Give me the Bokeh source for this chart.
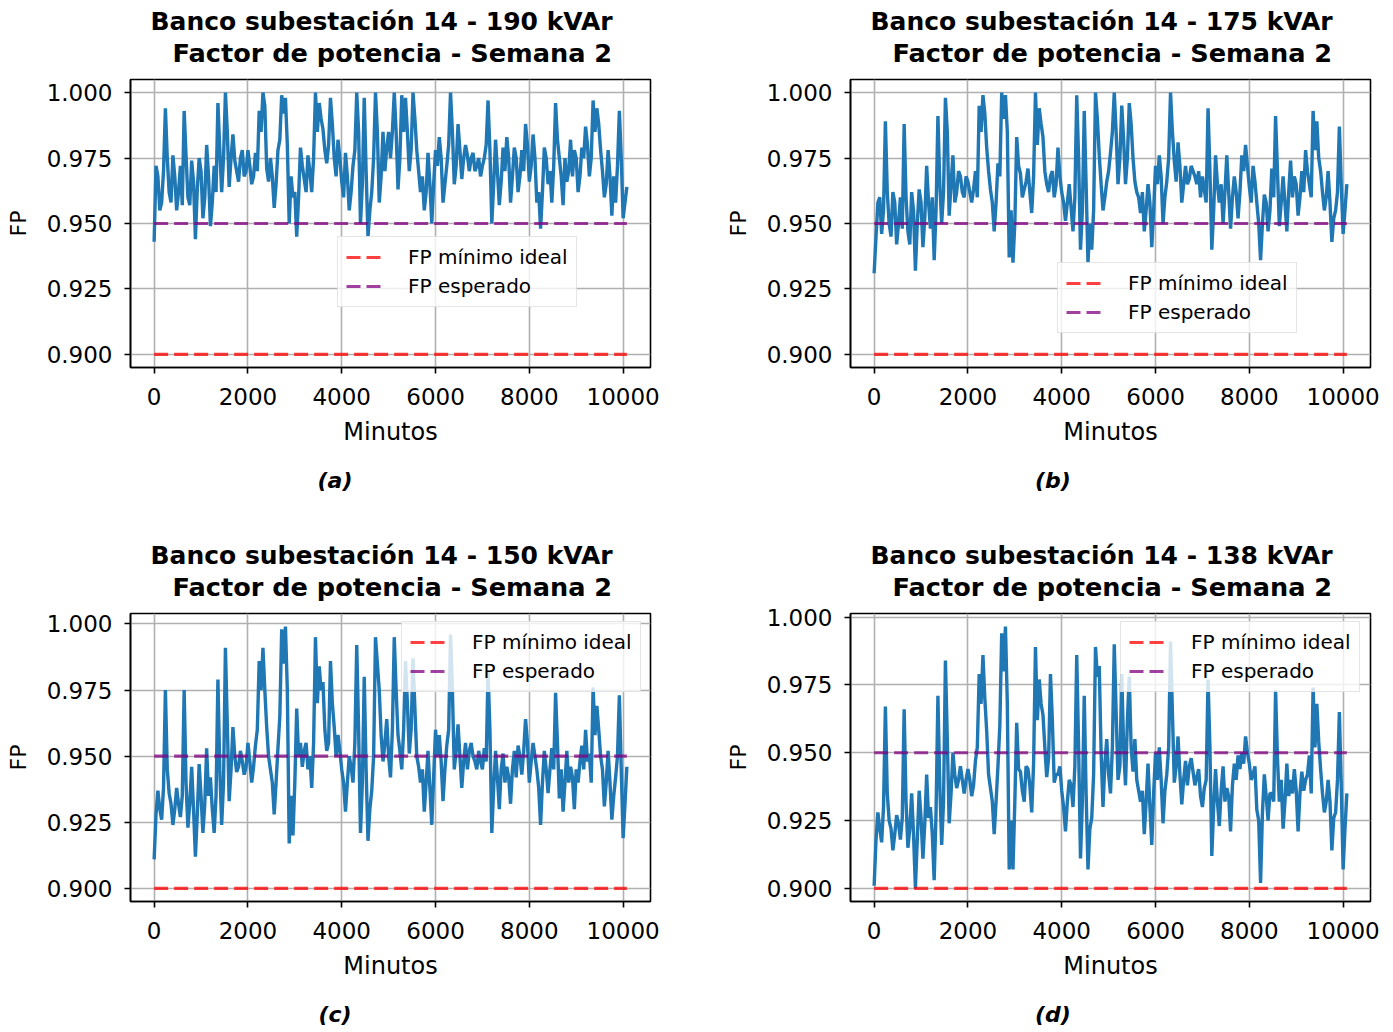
from bokeh.plotting import figure
from bokeh.models import (Range1d, FixedTicker, NumeralTickFormatter, Legend,
                          LegendItem, Title, Div, Spacer, ColumnDataSource)
from bokeh.layouts import column, row
from bokeh.embed import file_html
from bokeh.resources import INLINE

# ---------------- data ----------------
STEP_MIN = 40

# readings at 0, 80, 160, ... minutes
fp_190_lect = [0.943, 0.968, 0.958, 0.994, 0.962, 0.976, 0.955, 0.972, 0.993, 0.960,
               0.974, 0.944, 0.975, 0.952, 0.980, 0.949, 0.972, 0.996, 0.962, 1.000,
               0.964, 0.984, 0.970, 0.975, 0.968, 0.978, 0.965, 0.977, 0.993, 1.000,
               0.971, 0.975, 0.956, 0.978, 0.999, 0.998, 0.950, 0.960, 0.945, 0.979,
               0.967, 0.976, 0.962, 1.000, 0.996, 0.986, 0.973, 0.998, 0.975, 0.982,
               0.966, 0.977, 0.955, 0.972, 1.000, 0.950, 0.998, 0.945, 0.962, 1.000,
               0.958, 0.985, 0.979,
               0.975, 1.000, 0.963, 0.999, 0.998, 0.970, 1.000,
               0.978, 0.962, 0.955, 0.977, 0.950, 0.978, 0.983, 0.958, 0.972, 1.000,
               0.965, 0.988, 0.967, 0.980, 0.970, 0.977, 0.972, 0.968, 0.975, 0.997,
               0.950, 0.982, 0.957, 0.979, 0.983, 0.958, 0.979, 0.962, 0.978, 0.988,
               0.966, 0.984, 0.958, 0.948, 0.979, 0.965, 0.958, 0.996, 0.975, 0.957,
               0.966, 0.982, 0.978, 0.962, 0.979, 0.987, 0.968, 0.997, 0.994, 0.978,
               0.960, 0.978, 0.953, 0.958, 0.993, 0.952, 0.964]
# readings at 40, 120, 200, ... minutes
fp_190_int = [0.972, 0.955, 0.970, 0.975, 0.958, 0.968, 0.962, 0.957, 0.976, 0.957,
              0.966, 0.963, 0.970, 0.960, 0.968, 0.958, 0.962, 0.978, 0.975, 0.985,
              0.975, 0.974, 0.966, 0.978, 0.970, 0.972, 0.968, 0.970, 0.985, 0.995,
              0.966, 0.968, 0.965, 0.982, 0.992, 0.980, 0.968, 0.962, 0.960, 0.972,
              0.962, 0.970, 0.975, 0.985, 0.990, 0.978, 0.980, 0.988, 0.968, 0.975,
              0.960, 0.968, 0.962, 0.978, 0.985, 0.965, 0.970, 0.955, 0.975, 0.985,
              0.968, 0.970, 0.985, 0.985, 0.985, 0.975, 0.985, 0.985, 0.978, 0.990,
              0.970, 0.968, 0.962, 0.965, 0.965, 0.972, 0.975, 0.965, 0.980, 0.985,
              0.972, 0.978, 0.975, 0.976, 0.975, 0.970, 0.975, 0.972, 0.980, 0.978,
              0.965, 0.970, 0.966, 0.970, 0.975, 0.968, 0.975, 0.968, 0.970, 0.980,
              0.972, 0.975, 0.962, 0.962, 0.975, 0.970, 0.972, 0.982, 0.968, 0.975,
              0.970, 0.968, 0.975, 0.968, 0.975, 0.980, 0.975, 0.985, 0.988, 0.970,
              0.965, 0.968, 0.968, 0.972, 0.975, 0.958]

fp_175_lect = [0.931, 0.958, 0.946, 0.989, 0.950, 0.962, 0.942, 0.960, 0.988, 0.947,
               0.962, 0.932, 0.963, 0.941, 0.972, 0.948, 0.936, 0.991, 0.950, 0.998,
               0.953, 0.976, 0.962, 0.968, 0.960, 0.966, 0.958, 0.970, 0.995, 0.999,
               0.979, 0.963, 0.947, 0.973, 1.000, 0.999, 0.937, 0.935, 0.983, 0.969,
               0.963, 0.971, 0.954, 1.000, 0.994, 0.983, 0.965, 0.968, 0.960, 0.979,
               0.962, 0.951, 0.965, 0.947, 0.999, 0.940, 0.993, 0.935, 0.940, 1.000,
               0.976, 0.955, 0.966,
               0.977, 1.000, 0.965, 0.995, 0.965, 0.996, 0.975,
               0.962, 0.954, 0.947, 0.965, 0.941, 0.972, 0.976, 0.950, 0.966, 1.000,
               0.974, 0.981, 0.958, 0.972, 0.967, 0.970, 0.965, 0.960, 0.963, 0.994,
               0.940, 0.976, 0.958, 0.950, 0.976, 0.948, 0.968, 0.952, 0.976, 0.980,
               0.964, 0.972, 0.958, 0.936, 0.961, 0.947, 0.971, 0.991, 0.949, 0.968,
               0.947, 0.974, 0.968, 0.953, 0.970, 0.978, 0.965, 0.993, 0.989, 0.970,
               0.955, 0.970, 0.943, 0.955, 0.987, 0.946, 0.965]
fp_175_int = [0.945, 0.960, 0.955, 0.962, 0.945, 0.958, 0.950, 0.948, 0.960, 0.942,
              0.955, 0.950, 0.958, 0.952, 0.958, 0.960, 0.955, 0.965, 0.962, 0.985,
              0.965, 0.958, 0.970, 0.962, 0.968, 0.962, 0.963, 0.960, 0.985, 0.992,
              0.970, 0.958, 0.958, 0.968, 0.990, 0.985, 0.955, 0.950, 0.972, 0.960,
              0.966, 0.962, 0.968, 0.980, 0.988, 0.970, 0.962, 0.970, 0.965, 0.968,
              0.958, 0.958, 0.956, 0.960, 0.975, 0.955, 0.965, 0.950, 0.955, 0.990,
              0.965, 0.960, 0.970, 0.985, 0.985, 0.975, 0.982, 0.975, 0.988, 0.966,
              0.960, 0.962, 0.955, 0.958, 0.955, 0.965, 0.968, 0.960, 0.975, 0.985,
              0.966, 0.972, 0.965, 0.965, 0.972, 0.968, 0.970, 0.968, 0.958, 0.970,
              0.955, 0.965, 0.965, 0.962, 0.962, 0.960, 0.962, 0.962, 0.970, 0.972,
              0.958, 0.966, 0.950, 0.950, 0.958, 0.955, 0.960, 0.970, 0.958, 0.958,
              0.962, 0.960, 0.965, 0.960, 0.962, 0.970, 0.960, 0.978, 0.975, 0.962,
              0.960, 0.958, 0.952, 0.962, 0.965, 0.955]

fp_150_lect = [0.911, 0.937, 0.926, 0.975, 0.936, 0.924, 0.938, 0.927, 0.975, 0.923,
               0.946, 0.912, 0.947, 0.921, 0.953, 0.942, 0.921, 0.979, 0.924, 0.991,
               0.933, 0.961, 0.944, 0.952, 0.943, 0.955, 0.940, 0.954, 0.986, 0.991,
               0.961, 0.945, 0.928, 0.953, 0.998, 0.999, 0.917, 0.920, 0.968, 0.955,
               0.952, 0.945, 0.938, 0.995, 0.984, 0.978, 0.952, 0.986, 0.961, 0.958,
               0.945, 0.929, 0.950, 0.940, 0.992, 0.921, 0.980, 0.918, 0.937, 0.995,
               0.975, 0.948, 0.964,
               0.942, 0.995, 0.958, 0.945, 0.986, 0.951, 0.987,
               0.950, 0.940, 0.929, 0.952, 0.924, 0.960, 0.958, 0.933, 0.954, 0.996,
               0.945, 0.962, 0.938, 0.955, 0.952, 0.950, 0.945, 0.948, 0.953, 0.982,
               0.921, 0.952, 0.930, 0.951, 0.946, 0.932, 0.952, 0.954, 0.943, 0.964,
               0.940, 0.955, 0.945, 0.924, 0.952, 0.936, 0.953, 0.974, 0.934, 0.929,
               0.952, 0.946, 0.930, 0.940, 0.954, 0.960, 0.951, 0.976, 0.969, 0.950,
               0.931, 0.952, 0.926, 0.942, 0.973, 0.919, 0.946]
fp_150_int = [0.928, 0.930, 0.938, 0.945, 0.932, 0.930, 0.932, 0.935, 0.940, 0.932,
              0.930, 0.928, 0.935, 0.932, 0.935, 0.930, 0.935, 0.945, 0.940, 0.962,
              0.945, 0.950, 0.946, 0.948, 0.946, 0.948, 0.946, 0.960, 0.975, 0.975,
              0.950, 0.940, 0.940, 0.965, 0.985, 0.975, 0.935, 0.940, 0.950, 0.946,
              0.955, 0.950, 0.955, 0.970, 0.975, 0.960, 0.955, 0.970, 0.950, 0.952,
              0.940, 0.940, 0.946, 0.955, 0.960, 0.940, 0.945, 0.930, 0.950, 0.985,
              0.958, 0.955, 0.950, 0.960, 0.975, 0.952, 0.960, 0.970, 0.960, 0.968,
              0.946, 0.945, 0.940, 0.938, 0.942, 0.950, 0.948, 0.945, 0.960, 0.975,
              0.952, 0.950, 0.948, 0.945, 0.955, 0.948, 0.952, 0.945, 0.948, 0.960,
              0.938, 0.942, 0.945, 0.940, 0.942, 0.945, 0.942, 0.950, 0.952, 0.955,
              0.948, 0.950, 0.938, 0.940, 0.945, 0.945, 0.945, 0.955, 0.945, 0.940,
              0.940, 0.942, 0.945, 0.948, 0.945, 0.948, 0.940, 0.958, 0.960, 0.945,
              0.940, 0.940, 0.935, 0.950, 0.945, 0.932]

fp_138_lect = [0.901, 0.928, 0.917, 0.967, 0.925, 0.914, 0.927, 0.918, 0.966, 0.915,
               0.935, 0.900, 0.936, 0.911, 0.942, 0.930, 0.903, 0.971, 0.916, 0.984,
               0.924, 0.950, 0.937, 0.945, 0.935, 0.944, 0.934, 0.947, 0.979, 0.986,
               0.958, 0.937, 0.920, 0.945, 0.994, 0.9965, 0.907, 0.907, 0.961, 0.943,
               0.932, 0.944, 0.928, 0.989, 0.977, 0.964, 0.941, 0.979, 0.939, 0.942,
               0.936, 0.921, 0.940, 0.930, 0.986, 0.911, 0.971, 0.907, 0.926, 0.989,
               0.982, 0.930, 0.955,
               0.935, 0.990, 0.940, 0.979, 0.938, 0.978, 0.943,
               0.940, 0.932, 0.920, 0.946, 0.916, 0.950, 0.952, 0.924, 0.942, 0.991,
               0.939, 0.956, 0.931, 0.947, 0.945, 0.943, 0.941, 0.934, 0.937, 0.977,
               0.912, 0.944, 0.923, 0.945, 0.937, 0.921, 0.946, 0.949, 0.950, 0.956,
               0.946, 0.942, 0.929, 0.902, 0.942, 0.925, 0.935, 0.973, 0.932, 0.922,
               0.946, 0.940, 0.944, 0.921, 0.943, 0.940, 0.949, 0.974, 0.968, 0.944,
               0.928, 0.940, 0.914, 0.928, 0.965, 0.907, 0.935]
fp_138_int = [0.918, 0.922, 0.930, 0.935, 0.922, 0.920, 0.924, 0.926, 0.932, 0.922,
              0.920, 0.918, 0.926, 0.924, 0.926, 0.920, 0.928, 0.938, 0.932, 0.955,
              0.935, 0.942, 0.940, 0.940, 0.940, 0.940, 0.938, 0.952, 0.968, 0.970,
              0.942, 0.932, 0.932, 0.960, 0.980, 0.968, 0.925, 0.932, 0.944, 0.936,
              0.945, 0.938, 0.946, 0.962, 0.968, 0.952, 0.948, 0.962, 0.942, 0.945,
              0.930, 0.932, 0.938, 0.945, 0.952, 0.932, 0.935, 0.922, 0.942, 0.978,
              0.950, 0.946, 0.942, 0.952, 0.965, 0.945, 0.952, 0.962, 0.952, 0.955,
              0.936, 0.936, 0.932, 0.930, 0.935, 0.940, 0.940, 0.936, 0.952, 0.965,
              0.945, 0.942, 0.940, 0.938, 0.948, 0.938, 0.944, 0.930, 0.940, 0.952,
              0.930, 0.932, 0.936, 0.932, 0.934, 0.938, 0.940, 0.944, 0.946, 0.950,
              0.940, 0.945, 0.925, 0.928, 0.934, 0.935, 0.932, 0.948, 0.940, 0.932,
              0.934, 0.935, 0.936, 0.935, 0.936, 0.942, 0.935, 0.952, 0.954, 0.935,
              0.932, 0.932, 0.926, 0.940, 0.938, 0.922]

FP_MINIMO_IDEAL = 0.90
FP_ESPERADO = 0.95

bancos = ["190 kVAr", "175 kVAr", "150 kVAr", "138 kVAr"]
letras = ["(a)", "(b)", "(c)", "(d)"]
x_ticks = [0, 2000, 4000, 6000, 8000, 10000]
y_ticks = [0.900, 0.925, 0.950, 0.975, 1.000]


def merge(lect, inter):
    out = []
    for i, v in enumerate(lect):
        out.append(v)
        if i < len(inter):
            out.append(inter[i])
    return out


series = [merge(fp_190_lect, fp_190_int), merge(fp_175_lect, fp_175_int),
          merge(fp_150_lect, fp_150_int), merge(fp_138_lect, fp_138_int)]
minutos = [i * STEP_MIN for i in range(len(series[0]))]

# ---------------- styling / layout ----------------
FONT = "DejaVu Sans"
BLUE = "#1f77b4"
FRAME_W, FRAME_H = 520, 288


def padded(lo, hi, frac=0.05):
    d = (hi - lo) * frac
    return lo - d, hi + d


def panel(k, br, bt, bb, leg_xy):
    vals = series[k]
    all_y = vals + [FP_MINIMO_IDEAL, FP_ESPERADO]
    x0, x1 = padded(minutos[0], minutos[-1])
    y0, y1 = padded(min(all_y), max(all_y))
    p = figure(frame_width=FRAME_W, frame_height=FRAME_H,
               x_range=Range1d(x0, x1), y_range=Range1d(y0, y1),
               output_backend="svg", toolbar_location=None,
               min_border_left=130, min_border_right=br,
               min_border_top=bt, min_border_bottom=bb)
    p.background_fill_color = "white"
    p.border_fill_color = "white"
    p.outline_line_color = "black"
    p.outline_line_width = 1.6

    src = ColumnDataSource(dict(x=minutos, y=vals))
    p.line("x", "y", source=src, color=BLUE, line_width=3.4)
    xs = [minutos[0], minutos[-1]]
    r_min = p.line(xs, [FP_MINIMO_IDEAL] * 2, color="red", alpha=0.75,
                   line_width=3.2, line_dash="14 6")
    r_esp = p.line(xs, [FP_ESPERADO] * 2, color="purple", alpha=0.75,
                   line_width=3.2, line_dash="14 6")

    # axes
    p.xaxis.ticker = FixedTicker(ticks=x_ticks)
    p.yaxis.ticker = FixedTicker(ticks=y_ticks)
    p.xaxis.formatter = NumeralTickFormatter(format="0")
    p.yaxis.formatter = NumeralTickFormatter(format="0.000")
    p.xaxis.axis_label = "Minutos"
    p.yaxis.axis_label = "FP"
    for ax in (p.xaxis, p.yaxis):
        ax.major_label_text_font = FONT
        ax.major_label_text_font_size = "23px"
        ax.major_label_text_color = "black"
        ax.axis_label_text_font = FONT
        ax.axis_label_text_font_style = "normal"
        ax.axis_label_text_color = "black"
        ax.major_tick_out = 6
        ax.major_tick_in = 0
        ax.minor_tick_out = 0
        ax.minor_tick_in = 0
        ax.major_tick_line_width = 1.6
        ax.axis_line_width = 1.6
    p.xaxis.axis_label_text_font_size = "24px"
    p.yaxis.axis_label_text_font_size = "22px"
    p.xaxis.major_label_standoff = 14
    p.yaxis.major_label_standoff = 12
    p.xaxis.axis_label_standoff = 10
    p.yaxis.axis_label_standoff = 13

    p.xgrid.ticker = FixedTicker(ticks=x_ticks)
    p.ygrid.ticker = FixedTicker(ticks=y_ticks)
    p.grid.grid_line_color = "#b0b0b0"
    p.grid.grid_line_width = 1.6

    # two-line title (the one added first sits closest to the frame)
    p.title = None
    t2 = Title(text="Factor de potencia - Semana 2", align="left",
               text_font=FONT, text_font_size="25.6px", text_font_style="bold",
               text_color="black", standoff=23, offset=42)
    t1 = Title(text="Banco subestación 14 - " + bancos[k], align="left",
               text_font=FONT, text_font_size="25px", text_font_style="bold",
               text_color="black", standoff=-23, offset=20)
    p.add_layout(t2, "above")
    p.add_layout(t1, "above")

    leg = Legend(items=[LegendItem(label="FP mínimo ideal", renderers=[r_min]),
                        LegendItem(label="FP esperado", renderers=[r_esp])],
                 location=leg_xy)
    leg.label_text_font = FONT
    leg.label_text_font_size = "20px"
    leg.label_text_color = "black"
    leg.glyph_width = 36
    leg.glyph_height = 22
    leg.label_height = 22
    leg.label_standoff = 26
    leg.padding = 8
    leg.spacing = 5
    leg.margin = 0
    leg.background_fill_color = "white"
    leg.background_fill_alpha = 0.8
    leg.border_line_color = "#cccccc"
    leg.border_line_width = 1.2
    p.add_layout(leg, "center")
    return p


def caption(k, width, height):
    return Div(text=letras[k], width=width, height=height, margin=0,
               styles={"font-family": FONT, "font-size": "22px",
                       "font-weight": "bold", "font-style": "italic",
                       "color": "black", "text-align": "center",
                       "line-height": "30px", "padding-top": "4px",
                       "box-sizing": "border-box"})


pa = panel(0, 70, 79, 95, (207, 60))
pb = panel(1, 15, 79, 95, (207, 34))
pc = panel(2, 70, 78, 95, (271, 209))
pd = panel(3, 15, 78, 95, (270, 209))

cap_top = row(caption(0, 670, 73), Spacer(width=50, height=73, margin=0),
              caption(1, 666, 73), spacing=0)
cap_bot = row(caption(2, 670, 34), Spacer(width=50, height=34, margin=0),
              caption(3, 666, 34), spacing=0)

layout = column(row(pa, pb, spacing=0), cap_top,
                row(pc, pd, spacing=0), cap_bot, spacing=0)

open("out.html", "w").write(file_html(layout, INLINE))
